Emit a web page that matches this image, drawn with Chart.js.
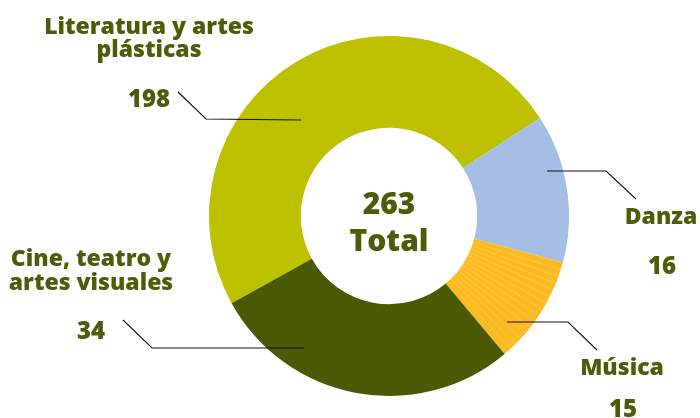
<!DOCTYPE html>
<html>
<head>
<meta charset="utf-8">
<script src="https://cdn.jsdelivr.net/npm/chart.js@4"></script>
<style>
  html, body { margin: 0; padding: 0; background: #fff; }
  #wrap { width: 700px; height: 418px; position: relative; }
</style>
</head>
<body>
<div id="wrap"><canvas id="donut"></canvas></div>
<script>
// data
const categories = ['Literatura y artes plásticas', 'Danza', 'Música', 'Cine, teatro y artes visuales'];
const counts = [198, 16, 15, 34];
const total = 263;
// the source does not draw slices to scale with the counts, so the arc sizes (degrees) are read separately
const sliceDegrees = [176, 48, 35, 101];
const titleLines = [['Literatura y artes', 'plásticas'], ['Danza'], ['Música'], ['Cine, teatro y', 'artes visuales']];

const colors = ['#bdc100', '#a4bfe3', '#fdbb22', '#4a5904'];
const textColor = '#4b5d08';
const FONT = '"Open Sans", sans-serif';

// label placement, offsets from the doughnut centre
const labelPos = [
  { title: [[-240, -189], [-240, -166]], num: [-240, -116], leader: [[-88, -96], [-183, -97], [-211, -124]] },
  { title: [[272, 1]], num: [273, 51], leader: [[158, -45], [217, -45], [247, -17]] },
  { title: [[233, 152]], num: [234, 194], leader: [[118, 106], [179, 106], [208, 134]] },
  { title: [[-298, 43], [-298, 67]], num: [-298, 116], leader: [[-85, 132], [-237, 132], [-266, 104]] }
];

const labelsPlugin = {
  id: 'labelsPlugin',
  afterDatasetsDraw(chart) {
    const ctx = chart.ctx;
    const meta = chart.getDatasetMeta(0);
    const cx = meta.data[0].x, cy = meta.data[0].y;

    // thin light lines across the Música slice (one per unit)
    const m = meta.data[2];
    const n = counts[2];
    ctx.save();
    ctx.strokeStyle = 'rgba(255,255,255,0.25)';
    ctx.lineWidth = 0.7;
    for (let i = 1; i < n; i++) {
      const a = m.startAngle + (m.endAngle - m.startAngle) * i / n;
      ctx.beginPath();
      ctx.moveTo(cx + Math.cos(a) * m.innerRadius, cy + Math.sin(a) * m.innerRadius);
      ctx.lineTo(cx + Math.cos(a) * m.outerRadius, cy + Math.sin(a) * m.outerRadius);
      ctx.stroke();
    }
    ctx.restore();

    // leader lines
    ctx.save();
    ctx.strokeStyle = '#111';
    ctx.lineWidth = 1.1;
    labelPos.forEach(p => {
      ctx.beginPath();
      p.leader.forEach((pt, i) => {
        if (i === 0) ctx.moveTo(cx + pt[0], cy + pt[1]);
        else ctx.lineTo(cx + pt[0], cy + pt[1]);
      });
      ctx.stroke();
    });
    ctx.restore();

    // titles and numbers
    ctx.save();
    ctx.fillStyle = textColor;
    ctx.textAlign = 'center';
    ctx.textBaseline = 'middle';
    labelPos.forEach((p, i) => {
      ctx.font = '800 23px ' + FONT;
      titleLines[i].forEach((line, j) => {
        ctx.fillText(line, cx + p.title[j][0], cy + p.title[j][1]);
      });
      ctx.font = '800 24px ' + FONT;
      ctx.fillText(String(counts[i]), cx + p.num[0], cy + p.num[1]);
    });

    // centre text
    ctx.font = '800 30px ' + FONT;
    ctx.fillText(String(total), cx, cy - 11);
    ctx.fillText('Total', cx, cy + 26);
    ctx.restore();
  }
};

new Chart(document.getElementById('donut'), {
  type: 'doughnut',
  data: {
    labels: categories,
    datasets: [{
      data: sliceDegrees,
      backgroundColor: colors,
      borderWidth: 0
    }]
  },
  options: {
    responsive: true,
    maintainAspectRatio: false,
    animation: false,
    rotation: -119,
    cutout: '49%',
    layout: { padding: { left: 209, right: 131, top: 36, bottom: 22 } },
    plugins: {
      legend: { display: false },
      tooltip: { enabled: false }
    }
  },
  plugins: [labelsPlugin]
});
</script>
</body>
</html>
